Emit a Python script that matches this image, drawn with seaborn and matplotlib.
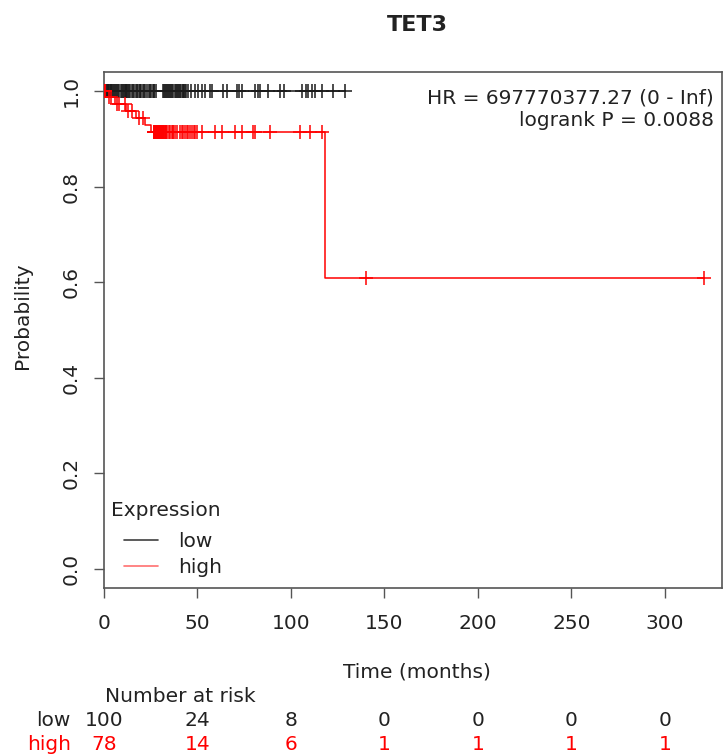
import numpy as np
import pandas as pd
import matplotlib
matplotlib.use("Agg")
import matplotlib.pyplot as plt
import matplotlib.transforms as mtransforms
from matplotlib.lines import Line2D
import seaborn as sns

# ---- data: follow-up times (months) and event flags per expression group ----
low_times = [0.2, 0.5, 0.8, 1, 1.5, 2, 2.2, 2.5, 3, 3.5, 4, 4.5, 5, 5.5, 6, 6.5,
             7, 7.5, 8, 9, 9.5, 10, 10.5, 11, 11.5, 12, 12.5, 13, 13.5, 14, 15,
             15.5, 16, 17, 17.5, 18, 19, 19.5, 20, 21, 21.5, 22, 23, 24, 24.5,
             25, 26, 26.5, 27, 28,
             31.5, 32, 32.5, 33, 33.5, 34, 35, 35.5, 36, 36.5, 37, 38, 38.5, 39,
             39.5, 40, 40.5, 41, 42, 42.5, 43, 43.5, 44, 45, 46.5, 48.7,
             50.3, 52.4, 54, 56.7, 57.5, 63.6, 65.8, 71, 72, 73.8, 80.7, 82.4,
             83.4, 87.7, 94, 96,
             106, 108, 109, 111, 113, 116.6, 122.5, 129]
low_events = [0] * len(low_times)

high_event_times = [1.5, 6, 12, 17, 22, 25, 118]
high_censor_times = [0.3, 0.5, 0.8, 2.5, 4, 7, 8, 11, 13, 15, 18.5, 21,
                     26.5, 26.8, 27, 27.3, 27.6, 27.8, 28, 28.3, 28.6, 28.8, 29,
                     29.3, 29.6, 29.8, 30, 30.3, 30.6, 30.8, 31, 31.4, 31.6,
                     31.8, 32.2, 32.6, 32.8, 33, 33.4, 33.8,
                     34.5, 35.5, 36.4, 36.9, 37, 38, 39, 40.6, 41.7, 42.5, 43.3,
                     44.4, 45, 46, 47, 48, 48.7, 49.7,
                     52.4, 59.4, 63, 70, 73.8, 79.7, 80.7, 88.8,
                     104.8, 110, 116.5, 140, 321]

groups = ["low", "high"]
colors = {"low": "#1a1a1a", "high": "#ff0000"}
legend_colors = {"low": "#404040", "high": "#ff7070"}
risk_times = [0, 50, 100, 150, 200, 250, 300]
hr_text = "HR = 697770377.27 (0 - Inf)"
p_text = "logrank P = 0.0088"
title = "TET3"

surv = {
    "low": pd.DataFrame({"time": low_times, "event": low_events}),
    "high": pd.DataFrame({
        "time": high_event_times + high_censor_times,
        "event": [1] * len(high_event_times) + [0] * len(high_censor_times),
    }),
}


def kaplan_meier(df):
    """Return step curve and censor-mark positions for a KM estimate."""
    d = df.sort_values("time")
    times = np.sort(d["time"].unique())
    s = 1.0
    xs, ys = [0.0], [1.0]
    cens_x, cens_y = [], []
    for t in times:
        at_t = d[d["time"] == t]
        n_risk = (d["time"] >= t).sum()
        n_ev = at_t["event"].sum()
        if n_ev > 0:
            s *= 1 - n_ev / n_risk
        xs.append(t)
        ys.append(s)
        for _ in range(int((at_t["event"] == 0).sum())):
            cens_x.append(t)
            cens_y.append(s)
    xs.append(d["time"].max())
    ys.append(s)
    curve = pd.DataFrame({"time": xs, "surv": ys})
    marks = pd.DataFrame({"time": cens_x, "surv": cens_y})
    return curve, marks


sns.set_theme(style="white")
plt.rcParams["font.family"] = ["DejaVu Sans"]

FS = 14.5
TXT = "#222222"
W, H = 724, 756
fig = plt.figure(figsize=(W / 100, H / 100), dpi=100)
ax = fig.add_axes([104 / W, 1 - 588 / H, (722 - 104) / W, (588 - 72) / H])

for g in groups:
    curve, marks = kaplan_meier(surv[g])
    sns.lineplot(data=curve, x="time", y="surv", ax=ax, color=colors[g],
                 drawstyle="steps-post", estimator=None, sort=False,
                 linewidth=1.1, legend=False)
    sns.scatterplot(data=marks, x="time", y="surv", ax=ax, color=colors[g],
                    marker="+", s=90, linewidth=1.1, legend=False, zorder=3)

ax.set_xlim(0, 330.5)
ax.set_ylim(-0.04, 1.04)
ax.set_xticks(risk_times)
ax.set_yticks([0.0, 0.2, 0.4, 0.6, 0.8, 1.0])
ax.set_yticklabels(["0.0", "0.2", "0.4", "0.6", "0.8", "1.0"], rotation=90,
                   va="center")
ax.tick_params(axis="both", which="both", direction="out", length=7,
               width=1, color="#555555", labelsize=FS, labelcolor=TXT,
               bottom=True, left=True)
ax.tick_params(axis="x", pad=12)
ax.tick_params(axis="y", pad=10)
for sp in ax.spines.values():
    sp.set_color("#555555")
    sp.set_linewidth(1.2)

ax.set_xlabel("")
ax.set_ylabel("")
fig.text(417 / W, 1 - 672 / H, "Time (months)", ha="center", va="center",
         fontsize=FS, color=TXT)
fig.text(22 / W, 1 - 316 / H, "Probability", ha="center", va="center",
         rotation=90, fontsize=FS, color=TXT)
fig.text(417 / W, 1 - 25 / H, title, ha="center", va="center",
         fontsize=16, fontweight="bold", color=TXT)

fig.text(714 / W, 1 - 98 / H, hr_text, ha="right", va="center",
         fontsize=FS, color=TXT)
fig.text(714 / W, 1 - 121 / H, p_text, ha="right", va="center",
         fontsize=FS, color=TXT)

# legend: title placed as text, entries indented beneath it
fig.text(111 / W, 1 - 510 / H, "Expression", ha="left", va="center",
         fontsize=FS, color=TXT)
handles = [Line2D([0], [0], color=legend_colors[g], linewidth=1.2) for g in groups]
leg = ax.legend(handles, groups, loc="upper left",
                bbox_to_anchor=(124 / W, 1 - 532 / H),
                bbox_transform=fig.transFigure, frameon=False,
                fontsize=FS, handlelength=1.7, handletextpad=1.0,
                labelspacing=0.36, borderaxespad=0, borderpad=0)
for t in leg.get_texts():
    t.set_color(TXT)

# number at risk table
blend = mtransforms.blended_transform_factory(ax.transData, fig.transFigure)
fig.text(180 / W, 1 - 697 / H, "Number at risk", ha="center", va="center",
         fontsize=FS, color=TXT)
row_y = {"low": 720, "high": 744}
row_col = {"low": TXT, "high": "#ff0000"}
for g in groups:
    t_all = np.asarray(surv[g]["time"])
    fig.text(71 / W, 1 - row_y[g] / H, g, ha="right", va="center",
             fontsize=FS, color=row_col[g])
    for rt in risk_times:
        n = int((t_all >= rt).sum())
        ax.text(rt, 1 - row_y[g] / H, str(n), transform=blend, ha="center",
                va="center", fontsize=FS, color=row_col[g], clip_on=False)

fig.savefig("out.png", dpi=100)
